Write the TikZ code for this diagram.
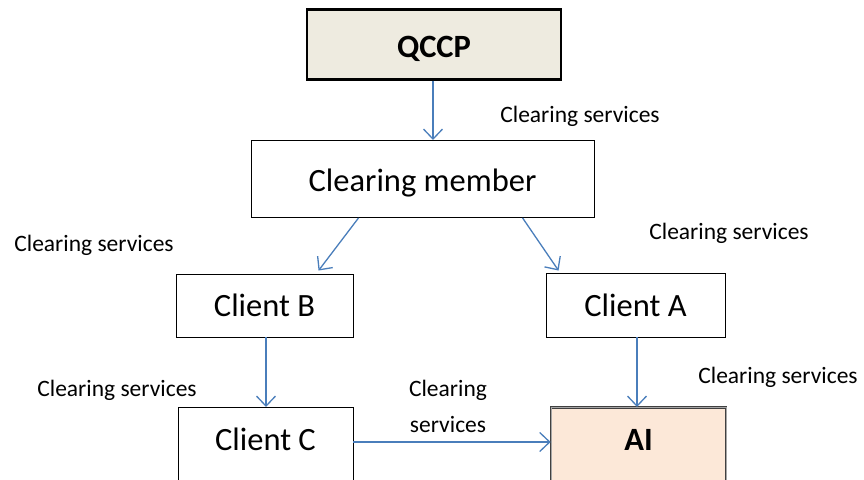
\documentclass[tikz,border=0pt]{standalone}
\usepackage{fontspec}
\setmainfont{Carlito}
\usetikzlibrary{arrows.meta}
\definecolor{flowblue}{HTML}{4A7EBB}
\definecolor{qccpfill}{HTML}{EEEBE0}
\definecolor{aifill}{HTML}{FCE8D8}
\tikzset{
  box/.style={draw=black, line width=0.9pt, fill=white, inner sep=0pt,
    font=\fontsize{32.5}{38}\selectfont},
  flow/.style={draw=flowblue, line width=1.3pt,
    -{Straight Barb[length=10pt,width=19pt,line width=1.3pt]}},
  note/.style={font=\fontsize{23.5}{28}\selectfont, inner sep=0pt, align=center}
}
\begin{document}
\begin{tikzpicture}[x=1pt,y=1pt]
\useasboundingbox (0,0) rectangle (864,-479);
\clip (0,0) rectangle (864,-479);

% boxes
\node[box, anchor=north, line width=2.6pt, fill=qccpfill, minimum width=254pt,
  text height=48pt, text depth=22pt,
  font=\fontsize{32.5}{38}\selectfont\bfseries] (qccp) at (434,-8) {QCCP};
\node[box, anchor=north, minimum width=343pt, text height=51pt, text depth=26pt]
  (cm) at (422.5,-140) {Clearing member};
\node[box, minimum width=177pt, minimum height=63pt] (cb) at (264.5,-305.5) {Client B};
\node[box, minimum width=179pt, minimum height=64pt] (ca) at (635.5,-305) {Client A};
\node[box, anchor=north, minimum width=175pt, text height=43pt, text depth=75pt]
  (cc) at (265.5,-407) {Client C};
\node[box, anchor=north, fill=aifill, draw=black!75, double=black!35, double distance=0.9pt,
  line width=0.7pt, minimum width=175pt, text height=43pt, text depth=75pt,
  font=\fontsize{32.5}{38}\selectfont\bfseries] (ai) at (638.5,-407) {AI};

% connectors
\draw[flow] ([xshift=-1pt]qccp.south) -- ([xshift=10.5pt]cm.north);
\draw[flow] ([xshift=108pt]cm.south west) -- ([xshift=143pt,yshift=3pt]cb.north west);
\draw[flow] ([xshift=272pt]cm.south west) -- ([xshift=13pt,yshift=2pt]ca.north west);
\draw[flow] ([xshift=1.5pt]cb.south) -- ([xshift=0.5pt]cc.north);
\draw[flow] ([xshift=1.5pt]ca.south) -- ([xshift=-1.5pt]ai.north);
\draw[flow] ([yshift=-35pt]cc.north east) -- ([yshift=-35pt]ai.north west);

% labels
\node[note] (l1) at (580,-116) {Clearing services};
\node[note] (l2) at (94,-245) {Clearing services};
\node[note] (l3) at (729,-233) {Clearing services};
\node[note] (l4) at (117,-390) {Clearing services};
\node[note] (l5) at (778,-377) {Clearing services};
\node[note] (l6) at (448,-390) {Clearing};
\node[note] (l7) at (448,-424) {services};
\end{tikzpicture}
\end{document}
